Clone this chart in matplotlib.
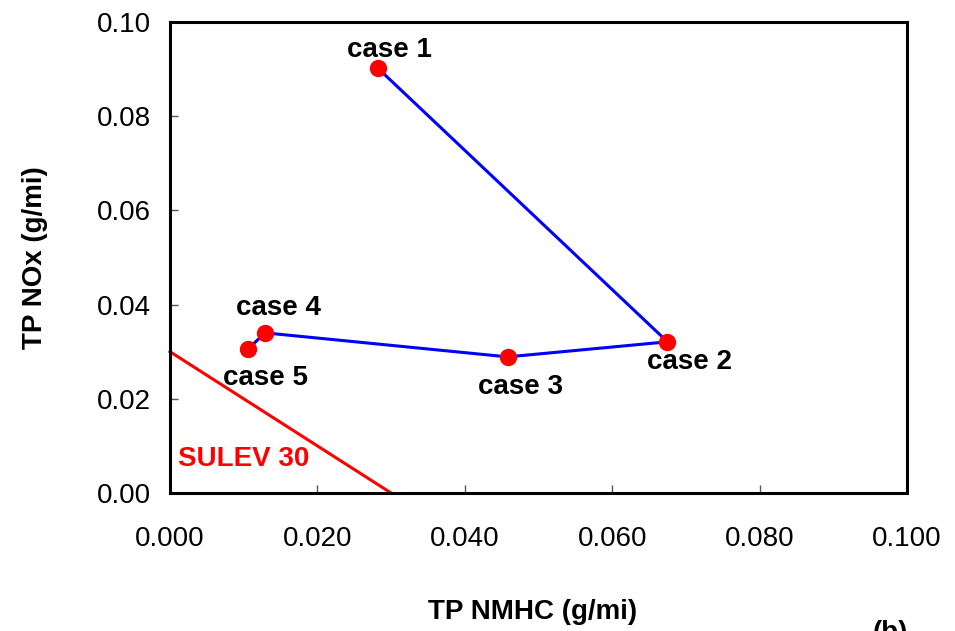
import matplotlib
matplotlib.use('Agg')
import matplotlib.pyplot as plt

plt.rcParams['font.family'] = ['Liberation Sans', 'DejaVu Sans']

# values
cases = ['case 1', 'case 2', 'case 3', 'case 4', 'case 5']
nmhc = [0.0282, 0.0675, 0.0458, 0.0129, 0.0106]
nox = [0.0902, 0.0321, 0.0289, 0.0340, 0.0306]
label_offsets = [(12, 18), (22, -20), (13, -30), (13, 25), (17, -29)]

sulev_x = [0.0, 0.030]
sulev_y = [0.030, 0.0]

xticks = [0.0, 0.02, 0.04, 0.06, 0.08, 0.10]
yticks = [0.0, 0.02, 0.04, 0.06, 0.08, 0.10]

fig = plt.figure(figsize=(9.55, 6.31), dpi=100)
ax = fig.add_axes([170/955, 1 - 493/631, 737/955, 471/631])

ax.plot(sulev_x, sulev_y, color='red', lw=2.2, zorder=2, clip_on=False)
ax.plot(nmhc, nox, color='blue', lw=2.2, zorder=3)
ax.plot(nmhc, nox, 'o', color='red', ms=11.5, zorder=4)

for name, x, y, off in zip(cases, nmhc, nox, label_offsets):
    ax.annotate(name, (x, y), xytext=off, textcoords='offset pixels',
                ha='center', va='center', fontsize=20, fontweight='bold')

ax.text(0.0011, 0.0072, 'SULEV 30', color='red', fontsize=20,
        fontweight='bold', ha='left', va='center')

ax.set_xlim(0, 0.1)
ax.set_ylim(0, 0.1)
ax.set_xticks(xticks)
ax.set_yticks(yticks)
ax.set_xticklabels(['%.3f' % v for v in xticks])
ax.set_yticklabels(['%.2f' % v for v in yticks])
ax.tick_params(direction='in', length=6, width=1, color='#555555',
               labelsize=20, pad=14)
ax.tick_params(axis='x', pad=24)
for s in ax.spines.values():
    s.set_linewidth(2.2)

fig.text(533/955, 1 - 612/631, 'TP NMHC (g/mi)', ha='center', va='center',
         fontsize=20, fontweight='bold')
fig.text(35/955, 1 - 258/631, 'TP NOx (g/mi)', ha='center', va='center',
         rotation=90, fontsize=20, fontweight='bold')
fig.text(890/955, 1 - 620/631, '(b)', ha='center', va='top',
         fontsize=20, fontweight='bold')

fig.savefig('out.png', dpi=100)
